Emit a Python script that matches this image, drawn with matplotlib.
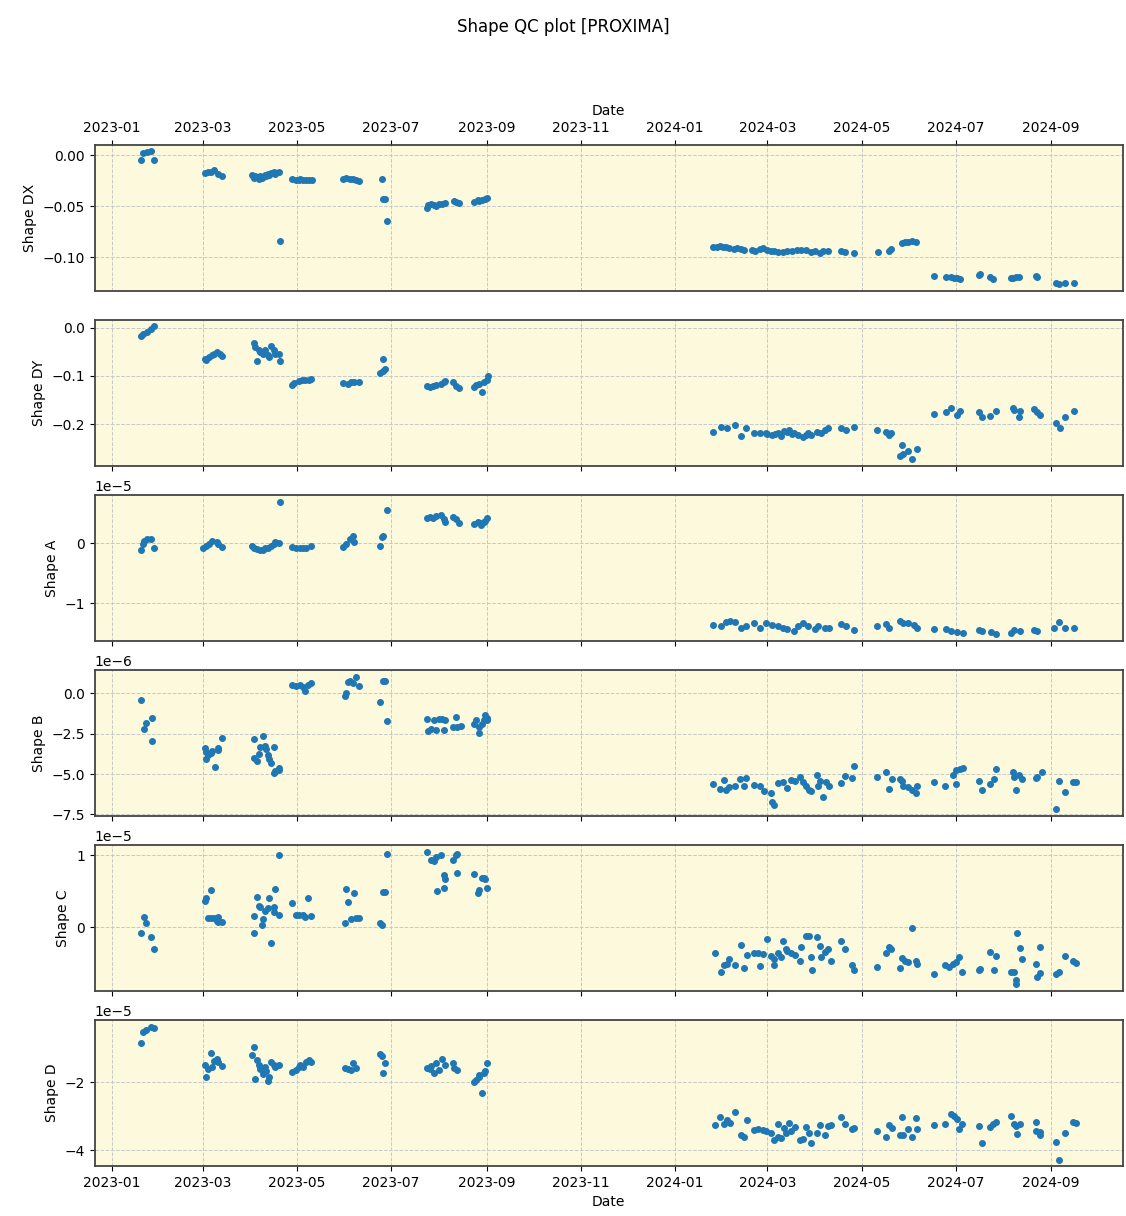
import matplotlib
matplotlib.use("Agg")
import matplotlib.pyplot as plt
import matplotlib.dates as mdates
import numpy as np
import pandas as pd

# ---- Shape DX ----
dx_dates = """
2023-01-20 2023-01-21 2023-01-24 2023-01-26 2023-01-28
2023-03-02 2023-03-04 2023-03-06 2023-03-08 2023-03-11 2023-03-13
2023-04-02 2023-04-03 2023-04-04 2023-04-05 2023-04-06 2023-04-07 2023-04-08 2023-04-09
2023-04-10 2023-04-11 2023-04-12 2023-04-13 2023-04-14 2023-04-16 2023-04-17 2023-04-19 2023-04-20
2023-04-28 2023-04-30 2023-05-02 2023-05-03 2023-05-05 2023-05-07 2023-05-09 2023-05-11
2023-05-31 2023-06-02 2023-06-04 2023-06-06 2023-06-08 2023-06-10
2023-06-25 2023-06-26 2023-06-27 2023-06-28
2023-07-24 2023-07-25 2023-07-27 2023-07-29 2023-07-30 2023-08-01 2023-08-03 2023-08-05
2023-08-11 2023-08-12 2023-08-14
2023-08-24 2023-08-26 2023-08-27 2023-08-29 2023-08-31 2023-09-01
2024-01-26 2024-01-28 2024-01-30 2024-02-01 2024-02-03 2024-02-05 2024-02-08 2024-02-10
2024-02-13 2024-02-15 2024-02-20 2024-02-22 2024-02-25 2024-02-27 2024-03-01 2024-03-03
2024-03-05 2024-03-08 2024-03-11 2024-03-14 2024-03-17 2024-03-20 2024-03-23 2024-03-26
2024-03-29 2024-04-01 2024-04-04 2024-04-06 2024-04-09 2024-04-18 2024-04-20 2024-04-26
2024-05-12 2024-05-19 2024-05-20 2024-05-27 2024-05-29 2024-05-31 2024-06-03 2024-06-05
2024-06-17 2024-06-25 2024-06-28 2024-06-30 2024-07-02 2024-07-04 2024-07-16 2024-07-17
2024-07-23 2024-07-25 2024-08-06 2024-08-07 2024-08-09 2024-08-11 2024-08-22 2024-08-23
2024-09-04 2024-09-06 2024-09-10 2024-09-16
""".split()
dx_vals = [
    -0.004, 0.002, 0.003, 0.004, -0.004,
    -0.017, -0.016, -0.016, -0.014, -0.018, -0.020,
    -0.019, -0.022, -0.020, -0.021, -0.023, -0.020, -0.022, -0.021,
    -0.019, -0.020, -0.018, -0.019, -0.017, -0.016, -0.018, -0.016, -0.084,
    -0.023, -0.024, -0.024, -0.023, -0.024, -0.024, -0.024, -0.024,
    -0.023, -0.022, -0.023, -0.023, -0.024, -0.025,
    -0.023, -0.043, -0.043, -0.064,
    -0.052, -0.049, -0.048, -0.049, -0.050, -0.048, -0.048, -0.047,
    -0.045, -0.046, -0.047,
    -0.046, -0.044, -0.045, -0.044, -0.043, -0.042,
    -0.090, -0.090, -0.089, -0.090, -0.090, -0.091, -0.092, -0.091,
    -0.092, -0.093, -0.093, -0.094, -0.092, -0.091, -0.093, -0.094,
    -0.094, -0.095, -0.095, -0.094, -0.094, -0.093, -0.093, -0.093,
    -0.095, -0.094, -0.096, -0.094, -0.094, -0.094, -0.095, -0.096,
    -0.095, -0.094, -0.092, -0.086, -0.085, -0.085, -0.084, -0.085,
    -0.118, -0.119, -0.119, -0.120, -0.120, -0.121, -0.117, -0.116,
    -0.119, -0.121, -0.120, -0.120, -0.119, -0.119, -0.118, -0.119,
    -0.125, -0.126, -0.125, -0.125,
]

# ---- Shape DY ----
dy_dates = """
2023-01-20 2023-01-21 2023-01-24 2023-01-26 2023-01-28
2023-03-02 2023-03-03 2023-03-05 2023-03-07 2023-03-08 2023-03-10 2023-03-12 2023-03-13
2023-04-03 2023-04-04 2023-04-05 2023-04-06 2023-04-07 2023-04-09 2023-04-10 2023-04-12
2023-04-13 2023-04-14 2023-04-16 2023-04-17 2023-04-19 2023-04-20
2023-04-28 2023-04-29 2023-05-02 2023-05-04 2023-05-06 2023-05-09 2023-05-10
2023-05-31 2023-06-03 2023-06-05 2023-06-07 2023-06-10
2023-06-24 2023-06-26 2023-06-26 2023-06-27
2023-07-24 2023-07-26 2023-07-28 2023-07-30 2023-08-02 2023-08-04 2023-08-05
2023-08-10 2023-08-12 2023-08-14
2023-08-24 2023-08-25 2023-08-27 2023-08-29 2023-08-30 2023-09-01 2023-09-02
2024-01-26 2024-01-31 2024-02-04 2024-02-09 2024-02-13 2024-02-16 2024-02-21 2024-02-25
2024-02-29 2024-03-01 2024-03-04 2024-03-06 2024-03-08 2024-03-10 2024-03-12 2024-03-14
2024-03-15 2024-03-17 2024-03-18 2024-03-21 2024-03-24 2024-03-26 2024-03-27 2024-03-29
2024-04-02 2024-04-05 2024-04-07 2024-04-09 2024-04-18 2024-04-21 2024-04-26
2024-05-11 2024-05-17 2024-05-19 2024-05-20 2024-05-27 2024-05-26 2024-05-28 2024-05-31
2024-06-03 2024-06-06
2024-06-17 2024-06-25 2024-06-28 2024-07-02 2024-07-04 2024-07-16 2024-07-18 2024-07-23
2024-07-27 2024-08-07 2024-08-08 2024-08-11 2024-08-12 2024-08-21 2024-08-23 2024-08-25
2024-09-04 2024-09-07 2024-09-10 2024-09-16
""".split()
dy_vals = [
    -0.016, -0.012, -0.009, -0.002, 0.003,
    -0.064, -0.066, -0.061, -0.057, -0.054, -0.050, -0.055, -0.059,
    -0.032, -0.039, -0.068, -0.047, -0.050, -0.054, -0.047, -0.057,
    -0.061, -0.037, -0.047, -0.054, -0.054, -0.068,
    -0.119, -0.114, -0.110, -0.109, -0.109, -0.108, -0.106,
    -0.114, -0.116, -0.112, -0.112, -0.113,
    -0.094, -0.090, -0.064, -0.085,
    -0.121, -0.124, -0.121, -0.119, -0.116, -0.112, -0.110,
    -0.112, -0.121, -0.126,
    -0.124, -0.119, -0.116, -0.133, -0.112, -0.109, -0.101,
    -0.216, -0.206, -0.209, -0.202, -0.225, -0.209, -0.218, -0.219,
    -0.218, -0.220, -0.222, -0.221, -0.219, -0.225, -0.214, -0.216,
    -0.212, -0.220, -0.218, -0.223, -0.226, -0.222, -0.219, -0.223,
    -0.216, -0.218, -0.213, -0.209, -0.209, -0.212, -0.206,
    -0.212, -0.216, -0.223, -0.218, -0.243, -0.266, -0.262, -0.257,
    -0.273, -0.252,
    -0.179, -0.174, -0.166, -0.181, -0.172, -0.176, -0.185, -0.183,
    -0.172, -0.166, -0.171, -0.185, -0.172, -0.168, -0.174, -0.181,
    -0.197, -0.209, -0.186, -0.172,
]

# ---- Shape A (x1e-5) ----
a_dates = """
2023-01-20 2023-01-21 2023-01-22 2023-01-24 2023-01-26 2023-01-28
2023-03-01 2023-03-03 2023-03-05 2023-03-07 2023-03-10 2023-03-11 2023-03-13
2023-04-02 2023-04-03 2023-04-05 2023-04-07 2023-04-09 2023-04-10 2023-04-12 2023-04-14
2023-04-16 2023-04-17 2023-04-19 2023-04-20
2023-04-28 2023-04-30 2023-05-03 2023-05-05 2023-05-07 2023-05-10
2023-05-31 2023-06-02 2023-06-04 2023-06-06 2023-06-07
2023-06-24 2023-06-25 2023-06-26 2023-06-28
2023-07-24 2023-07-26 2023-07-28 2023-07-30 2023-08-02 2023-08-04 2023-08-05
2023-08-10 2023-08-12 2023-08-14
2023-08-24 2023-08-26 2023-08-28 2023-08-29 2023-08-30 2023-08-31 2023-09-01
2024-01-26 2024-01-31 2024-02-03 2024-02-06 2024-02-09 2024-02-13 2024-02-16 2024-02-21
2024-02-25 2024-02-29 2024-03-04 2024-03-08 2024-03-11 2024-03-14 2024-03-18 2024-03-21
2024-03-24 2024-03-27 2024-04-01 2024-04-03 2024-04-07 2024-04-10 2024-04-18 2024-04-21
2024-04-26
2024-05-11 2024-05-17 2024-05-19 2024-05-26 2024-05-28 2024-05-31 2024-06-04 2024-06-06
2024-06-17 2024-06-25 2024-06-28 2024-07-02 2024-07-06 2024-07-16 2024-07-18 2024-07-24
2024-07-27 2024-08-06 2024-08-08 2024-08-12 2024-08-21 2024-08-23 2024-09-03 2024-09-06
2024-09-10 2024-09-16
""".split()
a_vals = [
    -0.11, -0.01, 0.04, 0.07, 0.08, -0.08,
    -0.07, -0.04, -0.01, 0.04, 0.03, -0.01, -0.06,
    -0.04, -0.08, -0.09, -0.11, -0.11, -0.08, -0.07, -0.04,
    -0.01, 0.02, 0.01, 0.70,
    -0.06, -0.08, -0.08, -0.08, -0.08, -0.04,
    -0.06, -0.01, 0.07, 0.12, 0.02,
    -0.04, 0.10, 0.12, 0.56,
    0.42, 0.44, 0.42, 0.45, 0.47, 0.41, 0.36,
    0.44, 0.40, 0.34,
    0.32, 0.36, 0.31, 0.34, 0.35, 0.38, 0.42,
    -1.37, -1.38, -1.32, -1.30, -1.31, -1.41, -1.39, -1.34,
    -1.41, -1.34, -1.37, -1.38, -1.41, -1.44, -1.46, -1.38,
    -1.34, -1.38, -1.44, -1.39, -1.42, -1.41, -1.35, -1.39,
    -1.45,
    -1.39, -1.35, -1.41, -1.30, -1.34, -1.34, -1.37, -1.41,
    -1.44, -1.44, -1.46, -1.48, -1.50, -1.45, -1.46, -1.49,
    -1.52, -1.50, -1.45, -1.46, -1.45, -1.46, -1.42, -1.32,
    -1.41, -1.42,
]

# ---- Shape B (x1e-6) ----
b_dates = """
2023-01-20 2023-01-22 2023-01-23 2023-01-27 2023-01-27
2023-03-02 2023-03-03 2023-03-03 2023-03-04 2023-03-06 2023-03-07 2023-03-09 2023-03-11
2023-03-11 2023-03-13
2023-04-03 2023-04-03 2023-04-05 2023-04-06 2023-04-07 2023-04-09 2023-04-10 2023-04-11
2023-04-12 2023-04-13 2023-04-14 2023-04-16 2023-04-16 2023-04-17 2023-04-19 2023-04-19
2023-04-28 2023-04-30 2023-05-03 2023-05-05 2023-05-06 2023-05-08 2023-05-10
2023-06-01 2023-06-02 2023-06-03 2023-06-04 2023-06-06 2023-06-08 2023-06-10
2023-06-24 2023-06-26 2023-06-27 2023-06-28
2023-07-24 2023-07-25 2023-07-27 2023-07-29 2023-07-30 2023-08-01 2023-08-03 2023-08-04
2023-08-05 2023-08-10 2023-08-12 2023-08-13 2023-08-15
2023-08-24 2023-08-25 2023-08-27 2023-08-27 2023-08-29 2023-08-30 2023-08-31 2023-09-01
2023-09-01
2024-01-26 2024-01-30 2024-02-02 2024-02-03 2024-02-05 2024-02-09 2024-02-12 2024-02-15
2024-02-16 2024-02-21 2024-02-25 2024-02-28 2024-03-03 2024-03-05 2024-03-04 2024-03-08
2024-03-11 2024-03-14 2024-03-16 2024-03-19 2024-03-22 2024-03-24 2024-03-26 2024-03-28
2024-03-29 2024-04-02 2024-04-03 2024-04-04 2024-04-06 2024-04-08 2024-04-10 2024-04-18
2024-04-20 2024-04-25 2024-04-26
2024-05-11 2024-05-17 2024-05-19 2024-05-21 2024-05-26 2024-05-27 2024-05-28 2024-05-31
2024-06-03 2024-06-05 2024-06-06
2024-06-17 2024-06-24 2024-06-29 2024-07-01 2024-07-01 2024-07-04 2024-07-06 2024-07-16
2024-07-18 2024-07-23 2024-07-26 2024-07-27 2024-08-07 2024-08-08 2024-08-09 2024-08-11
2024-08-13 2024-08-22 2024-08-23 2024-08-26 2024-09-04 2024-09-06 2024-09-10 2024-09-15
2024-09-17
""".split()
b_vals = [
    -0.45, -2.24, -1.84, -1.51, -2.94,
    -3.41, -3.61, -4.08, -3.82, -3.67, -3.55, -4.57, -3.41,
    -3.51, -2.80,
    -2.86, -4.02, -4.22, -3.76, -3.35, -2.65, -3.27, -3.47,
    -3.82, -4.08, -4.33, -4.94, -3.35, -4.84, -4.63, -4.73,
    0.53, 0.47, 0.53, 0.41, 0.16, 0.53, 0.61,
    -0.20, 0.00, 0.67, 0.78, 0.61, 1.02, 0.47,
    -0.55, 0.73, 0.73, -1.71,
    -1.57, -2.33, -2.24, -1.63, -2.29, -1.57, -1.57, -2.29,
    -1.67, -2.08, -1.47, -2.08, -2.04,
    -1.92, -1.63, -2.45, -2.08, -1.88, -1.67, -1.37, -1.51,
    -1.63,
    -5.59, -5.92, -5.35, -5.96, -5.80, -5.76, -5.31, -5.76,
    -5.24, -5.65, -5.71, -6.06, -6.20, -6.94, -6.73, -5.55,
    -5.51, -5.86, -5.35, -5.45, -5.18, -5.51, -5.76, -5.96,
    -6.06, -5.04, -5.71, -5.45, -6.41, -5.51, -5.71, -5.55,
    -5.10, -5.24, -4.53,
    -5.18, -4.90, -5.92, -5.31, -5.31, -5.45, -5.71, -5.80,
    -5.96, -6.20, -5.76,
    -5.51, -5.71, -5.04, -4.78, -5.59, -4.69, -4.63, -5.45,
    -5.96, -5.59, -5.31, -4.69, -4.90, -5.18, -5.96, -5.04,
    -5.31, -5.24, -5.18, -4.90, -7.18, -5.45, -6.12, -5.51,
    -5.51,
]

# ---- Shape C (x1e-5) ----
c_dates = """
2023-01-20 2023-01-22 2023-01-23 2023-01-26 2023-01-28
2023-03-02 2023-03-03 2023-03-04 2023-03-06 2023-03-06 2023-03-08 2023-03-10 2023-03-11
2023-03-11 2023-03-13
2023-04-03 2023-04-03 2023-04-05 2023-04-06 2023-04-07 2023-04-08 2023-04-09 2023-04-10
2023-04-12 2023-04-13 2023-04-14 2023-04-16 2023-04-16 2023-04-17 2023-04-19 2023-04-19
2023-04-28 2023-04-30 2023-05-02 2023-05-05 2023-05-06 2023-05-08 2023-05-10
2023-06-01 2023-06-02 2023-06-03 2023-06-05 2023-06-07 2023-06-08 2023-06-10
2023-06-24 2023-06-25 2023-06-26 2023-06-27 2023-06-28
2023-07-24 2023-07-27 2023-07-29 2023-07-31 2023-07-30 2023-08-02 2023-08-04 2023-08-04
2023-08-05 2023-08-10 2023-08-12 2023-08-13 2023-08-13
2023-08-24 2023-08-26 2023-08-27 2023-08-29 2023-08-30 2023-08-31 2023-09-01
2024-01-27 2024-01-31 2024-02-02 2024-02-04 2024-02-05 2024-02-09 2024-02-13 2024-02-15
2024-02-17 2024-02-21 2024-02-24 2024-02-25 2024-02-27 2024-03-01 2024-03-03 2024-03-05
2024-03-05 2024-03-08 2024-03-10 2024-03-11 2024-03-13 2024-03-14 2024-03-16 2024-03-19
2024-03-22 2024-03-23 2024-03-26 2024-03-28 2024-03-29 2024-03-30 2024-04-02 2024-04-04
2024-04-05 2024-04-07 2024-04-09 2024-04-11 2024-04-18 2024-04-20 2024-04-25 2024-04-26
2024-05-11 2024-05-17 2024-05-19 2024-05-20 2024-05-26 2024-05-27 2024-05-29 2024-05-31
2024-06-03 2024-06-05 2024-06-06
2024-06-17 2024-06-24 2024-06-27 2024-06-29 2024-07-01 2024-07-03 2024-07-05 2024-07-16
2024-07-17 2024-07-23 2024-07-26 2024-07-27 2024-08-06 2024-08-08 2024-08-09 2024-08-09
2024-08-10 2024-08-12 2024-08-13 2024-08-22 2024-08-23 2024-08-25 2024-08-25 2024-09-04
2024-09-06 2024-09-10 2024-09-15 2024-09-17
""".split()
c_vals = [
    -0.08, 0.14, 0.05, -0.14, -0.31,
    0.37, 0.40, 0.13, 0.51, 0.12, 0.12, 0.09, 0.14,
    0.07, 0.07,
    0.15, -0.08, 0.42, 0.29, 0.28, 0.03, 0.11, 0.23,
    0.27, 0.40, -0.22, 0.28, 0.21, 0.53, 0.17, 1.01,
    0.33, 0.17, 0.17, 0.17, 0.14, 0.40, 0.16,
    0.06, 0.53, 0.35, 0.11, 0.47, 0.12, 0.13,
    0.05, 0.03, 0.49, 0.49, 1.02,
    1.05, 0.93, 0.92, 0.50, 0.98, 1.00, 0.72, 0.54,
    0.67, 0.93, 1.00, 1.02, 0.76,
    0.74, 0.47, 0.51, 0.68, 0.68, 0.67, 0.54,
    -0.36, -0.63, -0.53, -0.51, -0.45, -0.53, -0.25, -0.57,
    -0.39, -0.36, -0.36, -0.54, -0.37, -0.17, -0.40, -0.53,
    -0.44, -0.36, -0.42, -0.20, -0.30, -0.33, -0.36, -0.39,
    -0.47, -0.28, -0.12, -0.13, -0.42, -0.60, -0.14, -0.27,
    -0.42, -0.35, -0.31, -0.47, -0.19, -0.30, -0.53, -0.60,
    -0.56, -0.36, -0.28, -0.30, -0.57, -0.43, -0.47, -0.49,
    -0.01, -0.48, -0.51,
    -0.65, -0.53, -0.56, -0.51, -0.49, -0.42, -0.63, -0.60,
    -0.59, -0.35, -0.60, -0.40, -0.63, -0.63, -0.74, -0.80,
    -0.08, -0.29, -0.45, -0.51, -0.70, -0.28, -0.64, -0.65,
    -0.62, -0.40, -0.47, -0.50,
]

# ---- Shape D (x1e-5) ----
d_dates = """
2023-01-20 2023-01-21 2023-01-23 2023-01-26 2023-01-28
2023-03-02 2023-03-03 2023-03-04 2023-03-06 2023-03-07 2023-03-08 2023-03-10 2023-03-11
2023-03-13
2023-04-03 2023-04-02 2023-04-04 2023-04-05 2023-04-06 2023-04-07 2023-04-09 2023-04-10
2023-04-11 2023-04-12 2023-04-13 2023-04-14 2023-04-16 2023-04-17 2023-04-19
2023-04-28 2023-04-30 2023-05-02 2023-05-03 2023-05-05 2023-05-07 2023-05-09 2023-05-10
2023-06-01 2023-06-03 2023-06-05 2023-06-06 2023-06-08
2023-06-24 2023-06-25 2023-06-26 2023-06-27
2023-07-24 2023-07-26 2023-07-27 2023-07-29 2023-07-30 2023-08-01 2023-08-03 2023-08-05
2023-08-10 2023-08-11 2023-08-13
2023-08-24 2023-08-25 2023-08-27 2023-08-27 2023-08-29 2023-08-30 2023-08-31 2023-09-01
2024-01-27 2024-01-30 2024-02-02 2024-02-04 2024-02-06 2024-02-09 2024-02-13 2024-02-15
2024-02-17 2024-02-21 2024-02-24 2024-02-27 2024-02-29 2024-03-03 2024-03-05 2024-03-08
2024-03-08 2024-03-10 2024-03-12 2024-03-13 2024-03-15 2024-03-16 2024-03-19 2024-03-22
2024-03-24 2024-03-26 2024-03-28 2024-03-29 2024-04-02 2024-04-04 2024-04-07 2024-04-09
2024-04-11 2024-04-18 2024-04-20 2024-04-25 2024-04-26
2024-05-11 2024-05-17 2024-05-19 2024-05-21 2024-05-26 2024-05-27 2024-05-28 2024-05-31
2024-06-03 2024-06-05 2024-06-06
2024-06-17 2024-06-24 2024-06-28 2024-06-30 2024-07-02 2024-07-03 2024-07-05 2024-07-16
2024-07-18 2024-07-23 2024-07-25 2024-07-27 2024-08-06 2024-08-08 2024-08-09 2024-08-10
2024-08-12 2024-08-22 2024-08-22 2024-08-25 2024-08-25 2024-09-04 2024-09-06 2024-09-10
2024-09-15 2024-09-17
""".split()
d_vals = [
    -0.84, -0.51, -0.45, -0.37, -0.39,
    -1.50, -1.85, -1.60, -1.14, -1.55, -1.38, -1.31, -1.41,
    -1.53,
    -0.96, -1.21, -1.90, -1.34, -1.50, -1.60, -1.77, -1.55,
    -1.67, -1.97, -1.85, -1.41, -1.50, -1.55, -1.48,
    -1.70, -1.63, -1.55, -1.50, -1.55, -1.41, -1.34, -1.41,
    -1.57, -1.60, -1.63, -1.45, -1.57,
    -1.18, -1.24, -1.73, -1.44,
    -1.57, -1.60, -1.53, -1.73, -1.45, -1.63, -1.31, -1.50,
    -1.45, -1.57, -1.63,
    -2.00, -1.93, -1.85, -1.80, -2.33, -1.73, -1.67, -1.44,
    -3.26, -3.02, -3.24, -3.12, -3.19, -2.89, -3.55, -3.63,
    -3.12, -3.42, -3.39, -3.42, -3.44, -3.51, -3.71, -3.61,
    -3.22, -3.65, -3.36, -3.51, -3.19, -3.44, -3.32, -3.71,
    -3.68, -3.32, -3.51, -3.78, -3.51, -3.26, -3.55, -3.29,
    -3.26, -3.04, -3.24, -3.39, -3.36,
    -3.44, -3.63, -3.26, -3.36, -3.55, -3.02, -3.55, -3.39,
    -3.61, -3.06, -3.39,
    -3.26, -3.22, -2.94, -2.99, -3.09, -3.39, -3.24, -3.29,
    -3.78, -3.32, -3.24, -3.16, -2.99, -3.22, -3.29, -3.53,
    -3.22, -3.16, -3.44, -3.46, -3.55, -3.75, -4.28, -3.51,
    -3.16, -3.19,
]

panels = [
    ("Shape DX", dx_dates, dx_vals, 1.0, [0.0, -0.05, -0.10]),
    ("Shape DY", dy_dates, dy_vals, 1.0, [0.0, -0.1, -0.2]),
    ("Shape A", a_dates, a_vals, 1e-5, [0.0, -1e-5]),
    ("Shape B", b_dates, b_vals, 1e-6, [0.0, -2.5e-6, -5e-6, -7.5e-6]),
    ("Shape C", c_dates, c_vals, 1e-5, [1e-5, 0.0]),
    ("Shape D", d_dates, d_vals, 1e-5, [-2e-5, -4e-5]),
]

fig, axes = plt.subplots(6, 1, figsize=(11.26, 12.16), dpi=100, sharex=True)
fig.subplots_adjust(left=0.084, right=0.997, top=0.881, bottom=0.041, hspace=0.2)
fig.suptitle("Shape QC plot [PROXIMA]", fontsize=12, y=0.985)

for ax, (label, dates, vals, scale, yt) in zip(axes, panels):
    ax.scatter(pd.to_datetime(dates), np.array(vals) * scale, s=16, color="#1f77b4", zorder=3)
    ax.set_facecolor("#fcf9dd")
    ax.set_ylabel(label)
    ax.set_yticks(yt)
    ax.grid(True, linestyle="--", color="#c8c8c8", linewidth=0.7)
    ax.set_axisbelow(True)
    for sp in ax.spines.values():
        sp.set_linewidth(1.3)
        sp.set_color("#444444")

axes[-1].xaxis.set_major_locator(mdates.MonthLocator(bymonth=[1, 3, 5, 7, 9, 11]))
axes[-1].xaxis.set_major_formatter(mdates.DateFormatter("%Y-%m"))
axes[-1].set_xlabel("Date")

axes[0].tick_params(axis="x", top=True, labeltop=True, bottom=False, labelbottom=False)
axes[0].xaxis.set_label_position("top")
axes[0].set_xlabel("Date")

fig.savefig("out.png", dpi=100)
